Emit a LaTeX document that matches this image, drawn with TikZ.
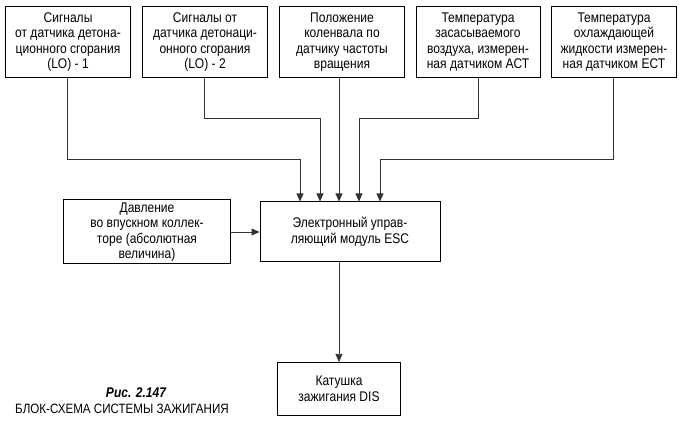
\documentclass[tikz,border=0pt]{standalone}
\usepackage{fontspec}
\setmainfont[FakeStretch=0.86]{Liberation Sans}
\usetikzlibrary{arrows.meta}
\begin{document}
\begin{tikzpicture}[x=1pt,y=-1pt,
 box/.style={draw,line width=1pt,align=center,font=\fontsize{14}{15.5}\selectfont,inner sep=1pt},
 ln/.style={draw=black!80,line width=0.6pt},
 ar/.style={ln,-{Triangle[length=8pt,width=7pt]}}]
\useasboundingbox (0,0) rectangle (680,435);
\node[box,minimum width=125,minimum height=71] (s1) at (68,42) {Сигналы\\от датчика детона-\\ционного сгорания\\(LO) - 1};
\node[box,minimum width=125,minimum height=71] (s2) at (205,42) {Сигналы от\\датчика детонаци-\\онного сгорания\\(LO) - 2};
\node[box,minimum width=125,minimum height=71] (s3) at (342,42) {Положение\\коленвала по\\датчику частоты\\вращения};
\node[box,minimum width=124,minimum height=71] (s4) at (478,42) {Температура\\засасываемого\\воздуха, измерен-\\ная датчиком АСТ};
\node[box,minimum width=125,minimum height=71] (s5) at (614,42) {Температура\\охлаждающей\\жидкости измерен-\\ная датчиком ЕСТ};
\node[box,minimum width=180,minimum height=60] (esc) at (350,232) {Электронный управ-\\ляющий модуль ESC};
\node[box,minimum width=167,minimum height=64] (p) at (147,232) {Давление\\во впускном коллек-\\торе (абсолютная\\величина)};
\node[box,minimum width=123,minimum height=53] (c) at (339,389) {Катушка\\зажигания DIS};
\node[font=\bfseries\itshape\fontsize{14}{16}\selectfont] (cap1) at (136,393) {Рис. 2.147};
\node[font=\fontsize{13.5}{15}\selectfont] (cap2) at (122,409) {БЛОК-СХЕМА СИСТЕМЫ ЗАЖИГАНИЯ};
\coordinate (k1) at (67,159); \coordinate (e1) at (300,159);
\coordinate (k2) at (204,118); \coordinate (e2) at (320,118);
\coordinate (k4) at (478,118); \coordinate (e4) at (359,118);
\coordinate (k5) at (613,159); \coordinate (e5) at (380,159);
\draw[ln] (s1.south -| k1) -- (k1) -- (e1);
\draw[ar] (e1) -- (e1 |- esc.north);
\draw[ln] (s2.south -| k2) -- (k2) -- (e2);
\draw[ar] (e2) -- (e2 |- esc.north);
\draw[ar] (s3.south -| 339,0) -- (339,0 |- esc.north);
\draw[ln] (s4.south -| k4) -- (k4) -- (e4);
\draw[ar] (e4) -- (e4 |- esc.north);
\draw[ln] (s5.south -| k5) -- (k5) -- (e5);
\draw[ar] (e5) -- (e5 |- esc.north);
\draw[ar] (p.east) -- (p.east -| esc.west);
\draw[ar] (esc.south -| c.north) -- (c.north);
\end{tikzpicture}
\end{document}
